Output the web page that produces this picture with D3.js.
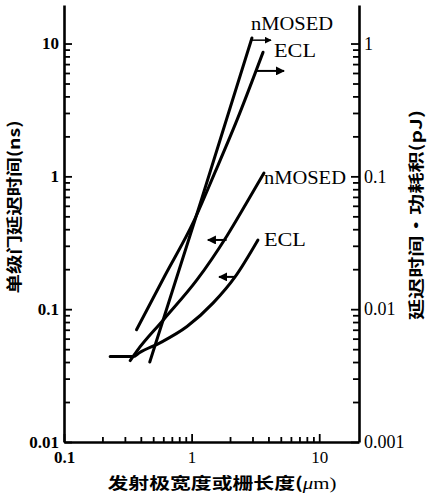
<!DOCTYPE html>
<html>
<head>
<meta charset="utf-8">
<script src="https://cdn.jsdelivr.net/npm/d3@7"></script>
<style>
  body { margin: 0; background: #fff; }
  .tick text { font-family: "Liberation Serif", serif; fill: #000; }
  .title { font-family: "Noto Sans CJK SC", sans-serif; font-weight: 700; font-size: 16px; fill: #000; }
  .label { font-family: "Liberation Serif", serif; font-size: 18px; fill: #000; }
</style>
</head>
<body>
<div id="chart"></div>
<script>
// Tick labels
const xTickLabels = ["0.1", "1", "10"];
const leftTickLabels = ["0.01", "0.1", "1", "10"];
const rightTickLabels = ["0.001", "0.01", "0.1", "1"];

// Delay-power product curves (right axis, pJ)
const nmosPjX = [0.47, 1.19, 2.97];
const nmosPjY = [0.004, 0.066, 1.1];
const eclPjX = [0.37, 0.62, 1.03, 1.53, 2.27, 3.63];
const eclPjY = [0.007, 0.018, 0.045, 0.108, 0.266, 0.86];

// Gate delay curves (left axis, ns)
const nmosNsX = [0.33, 0.37, 0.6, 1.1, 1.89, 2.72, 3.69];
const nmosNsY = [0.041, 0.048, 0.083, 0.166, 0.356, 0.641, 1.06];
const eclNsX = [0.23, 0.35, 0.39, 0.57, 0.92, 1.47, 2.19, 3.31];
const eclNsY = [0.044, 0.044, 0.047, 0.056, 0.074, 0.111, 0.175, 0.332];

// Curve labels and the arrows pointing to their axis
const labelText = ["nMOSED", "ECL", "nMOSED", "ECL"];
const labelX = [2.92, 4.42, 3.69, 3.69];
const labelY = [1.27, 0.79, 0.877, 0.299];
const labelAxis = ["right", "right", "left", "left"];
const arrowFromX = [2.92, 3.25, 1.88, 2.19];
const arrowToX = [4.19, 5.3, 1.34, 1.64];
const arrowY = [1.06, 0.622, 0.332, 0.175];
const arrowAxis = ["right", "right", "left", "left"];

const width = 428, height = 496;

const svg = d3.select("#chart")
    .append("svg")
    .attr("width", width)
    .attr("height", height);

// arrow head
svg.append("defs").append("marker")
    .attr("id", "head")
    .attr("viewBox", "0 0 10 10")
    .attr("refX", 9).attr("refY", 5)
    .attr("markerWidth", 4.5).attr("markerHeight", 4.5)
    .attr("markerUnits", "strokeWidth")
    .attr("orient", "auto")
    .append("path")
    .attr("d", "M0,0 L10,5 L0,10 Z")
    .attr("fill", "#000");

// scales
const x = d3.scaleLog().domain([0.1, 20.5]).range([64, 359]);
const yL = d3.scaleLog().domain([0.01, 19.5]).range([442, 5]);
const yR = d3.scaleLog().domain([0.001, 1.95]).range([442, 5]);
const yOf = a => a === "right" ? yR : yL;

const isMajor = d => Math.abs(Math.log10(d) - Math.round(Math.log10(d))) < 1e-6;
function labelFor(list) {
    return d => {
        if (!isMajor(d)) return "";
        const s = list.find(t => Math.abs(+t - d) < 1e-9);
        return s || "";
    };
}

// X axis (ticks point up)
const xAxis = svg.append("g")
    .attr("transform", "translate(0,442)")
    .call(d3.axisBottom(x)
        .tickValues(x.ticks().filter(d => d <= 10.0001))
        .tickSizeInner(-5).tickSizeOuter(0).tickPadding(9)
        .tickFormat(labelFor(xTickLabels)));
xAxis.selectAll(".tick line").attr("y2", d => isMajor(d) ? -8 : -5);
xAxis.selectAll(".tick text")
    .attr("font-size", 17)
    .attr("font-weight", d => d === 0.1 ? 700 : 400);

// left Y axis (ticks point right)
const leftAxis = svg.append("g")
    .attr("transform", "translate(64,0)")
    .call(d3.axisLeft(yL)
        .tickValues(yL.ticks())
        .tickSizeInner(-6).tickSizeOuter(0).tickPadding(5)
        .tickFormat(labelFor(leftTickLabels)));
leftAxis.selectAll(".tick line").attr("x2", d => isMajor(d) ? 8 : 6);
leftAxis.selectAll(".tick text")
    .attr("font-size", 17)
    .attr("font-weight", 700);

// right Y axis (ticks point left)
const rightAxis = svg.append("g")
    .attr("transform", "translate(359,0)")
    .call(d3.axisRight(yR)
        .tickValues(yR.ticks())
        .tickSizeInner(-6).tickSizeOuter(0).tickPadding(5)
        .tickFormat(labelFor(rightTickLabels)));
rightAxis.selectAll(".tick line").attr("x2", d => isMajor(d) ? -8 : -6);
rightAxis.selectAll(".tick text").attr("font-size", 18);

[xAxis, leftAxis, rightAxis].forEach(g => {
    g.select(".domain").attr("stroke", "#000").attr("stroke-width", 2.6);
    g.selectAll(".tick line").attr("stroke", "#000").attr("stroke-width", 1.8);
});

// axis titles
svg.append("text")
    .attr("class", "title")
    .attr("transform", "translate(20,207) rotate(-90)")
    .attr("text-anchor", "middle")
    .attr("textLength", 173)
    .attr("lengthAdjust", "spacingAndGlyphs")
    .text("单级门延迟时间(ns)");

svg.append("text")
    .attr("class", "title")
    .attr("transform", "translate(422,215) rotate(-90)")
    .attr("text-anchor", "middle")
    .attr("textLength", 210)
    .attr("lengthAdjust", "spacingAndGlyphs")
    .text("延迟时间·功耗积(pJ)");

const xTitle = svg.append("text")
    .attr("class", "title")
    .attr("x", 222)
    .attr("y", 489)
    .attr("text-anchor", "middle")
    .attr("textLength", 229)
    .attr("lengthAdjust", "spacingAndGlyphs");
xTitle.append("tspan").text("发射极宽度或栅长度(");
xTitle.append("tspan").attr("font-style", "italic").attr("font-family", "Liberation Serif").attr("font-weight", 400).text("μ");
xTitle.append("tspan").attr("font-family", "Liberation Serif").attr("font-weight", 400).text("m)");

// curves
const series = [
    { xs: nmosPjX, ys: nmosPjY, axis: "right" },
    { xs: eclPjX, ys: eclPjY, axis: "right" },
    { xs: nmosNsX, ys: nmosNsY, axis: "left" },
    { xs: eclNsX, ys: eclNsY, axis: "left" }
];

series.forEach(s => {
    const yScale = yOf(s.axis);
    const line = d3.line()
        .x(d => x(d[0]))
        .y(d => yScale(d[1]))
        .curve(d3.curveMonotoneX);
    svg.append("path")
        .datum(s.xs.map((v, i) => [v, s.ys[i]]))
        .attr("d", line)
        .attr("fill", "none")
        .attr("stroke", "#000")
        .attr("stroke-width", 3)
        .attr("stroke-linecap", "round");
});

// arrows
svg.selectAll(".arrow")
    .data(arrowY)
    .enter()
    .append("line")
    .attr("class", "arrow")
    .attr("x1", (d, i) => x(arrowFromX[i]))
    .attr("x2", (d, i) => x(arrowToX[i]))
    .attr("y1", (d, i) => yOf(arrowAxis[i])(d))
    .attr("y2", (d, i) => yOf(arrowAxis[i])(d))
    .attr("stroke", "#000")
    .attr("stroke-width", (d, i) => i === 0 ? 1.5 : 2)
    .attr("marker-end", "url(#head)");

// curve labels
svg.selectAll(".label")
    .data(labelText)
    .enter()
    .append("text")
    .attr("class", "label")
    .attr("x", (d, i) => x(labelX[i]))
    .attr("y", (d, i) => yOf(labelAxis[i])(labelY[i]))
    .attr("textLength", d => d === "ECL" ? 42 : 82)
    .attr("lengthAdjust", "spacingAndGlyphs")
    .text(d => d);
</script>
</body>
</html>
